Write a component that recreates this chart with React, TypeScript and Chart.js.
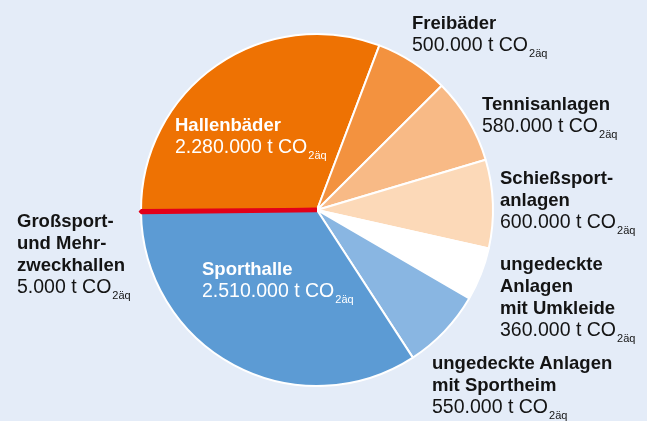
import React, { useEffect, useRef } from 'react';
import { Chart, registerables } from 'chart.js';

Chart.register(...registerables);

// ---- data ----
const categories: string[] = [
  'Hallenbäder',
  'Freibäder',
  'Tennisanlagen',
  'Schießsportanlagen',
  'ungedeckte Anlagen mit Umkleide',
  'ungedeckte Anlagen mit Sportheim',
  'Sporthalle',
  'Großsport- und Mehrzweckhallen',
];
const emissions: number[] = [2280000, 500000, 580000, 600000, 360000, 550000, 2510000, 5000];
const titleLines: string[][] = [
  ['Hallenbäder'],
  ['Freibäder'],
  ['Tennisanlagen'],
  ['Schießsport-', 'anlagen'],
  ['ungedeckte', 'Anlagen', 'mit Umkleide'],
  ['ungedeckte Anlagen', 'mit Sportheim'],
  ['Sporthalle'],
  ['Großsport-', 'und Mehr-', 'zweckhallen'],
];
const unitText = 't CO';
const unitSub = '2äq';

// ---- styles ----
const sliceColors = ['#ee7203', '#f3923f', '#f8ba86', '#fcd9b8', '#ffffff', '#89b6e2', '#5c9bd4', '#e2001a'];
const sliceBorderColors = ['#ffffff', '#ffffff', '#ffffff', '#ffffff', '#ffffff', '#ffffff', '#ffffff', '#e2001a'];
const sliceBorderWidths = [2, 2, 2, 2, 2, 2, 2, 4.5];
const labelPlacement = [
  { x: 175, baseline: 131.7, color: '#ffffff' },
  { x: 412, baseline: 30, color: '#141414' },
  { x: 482, baseline: 110.5, color: '#141414' },
  { x: 500, baseline: 185, color: '#141414' },
  { x: 500, baseline: 271, color: '#141414' },
  { x: 432, baseline: 370, color: '#141414' },
  { x: 202, baseline: 276, color: '#ffffff' },
  { x: 17, baseline: 228, color: '#141414' },
];
const BG = '#e4ecf8';
const FONT = '"Liberation Sans", Arial, sans-serif';
const TITLE_SIZE = 18.5;
const VALUE_SIZE = 19.5;
const LINE_STEP = 21.8;

function formatDE(n: number): string {
  const s = String(Math.round(n));
  let out = '';
  for (let i = 0; i < s.length; i++) {
    const fromEnd = s.length - i;
    out += s[i];
    if (fromEnd > 1 && (fromEnd - 1) % 3 === 0) out += '.';
  }
  return out;
}

function Line(props: { x: number; baseline: number; size: number; bold?: boolean; color: string; children: React.ReactNode }) {
  const { x, baseline, size, bold, color, children } = props;
  return (
    <div
      style={{
        position: 'absolute',
        left: x,
        top: baseline - 0.8465 * size,
        fontSize: size,
        lineHeight: 1,
        fontWeight: bold ? 700 : 400,
        color,
        whiteSpace: 'nowrap',
        fontFamily: FONT,
      }}
    >
      {children}
    </div>
  );
}

export default function App() {
  const canvasRef = useRef<HTMLCanvasElement | null>(null);

  useEffect(() => {
    if (!canvasRef.current) return;
    const chart = new Chart(canvasRef.current, {
      type: 'pie',
      data: {
        labels: categories,
        datasets: [
          {
            data: emissions,
            backgroundColor: sliceColors,
            borderColor: sliceBorderColors,
            borderWidth: sliceBorderWidths,
          },
        ],
      },
      options: {
        responsive: false,
        maintainAspectRatio: false,
        animation: false,
        events: [],
        rotation: 269.6,
        radius: 176,
        layout: { padding: { left: 0, right: 13, top: 0, bottom: 1 } },
        plugins: {
          legend: { display: false },
          tooltip: { enabled: false },
        },
      } as any,
    });
    return () => chart.destroy();
  }, []);

  return (
    <div
      style={{
        position: 'fixed',
        left: 0,
        top: 0,
        width: 647,
        height: 421,
        background: BG,
        overflow: 'hidden',
      }}
    >
      <canvas
        ref={canvasRef}
        width={647}
        height={421}
        style={{ position: 'absolute', left: 0, top: 0, width: 647, height: 421, display: 'block' }}
      />
      {categories.map((cat, i) => {
        const p = labelPlacement[i];
        const lines = titleLines[i];
        return (
          <React.Fragment key={cat}>
            {lines.map((t, j) => (
              <Line key={j} x={p.x} baseline={p.baseline + j * LINE_STEP} size={TITLE_SIZE} bold color={p.color}>
                {t}
              </Line>
            ))}
            <Line x={p.x} baseline={p.baseline + lines.length * LINE_STEP} size={VALUE_SIZE} color={p.color}>
              {formatDE(emissions[i])} {unitText}
              <span style={{ fontSize: 11, verticalAlign: '-6px', marginLeft: 1 }}>{unitSub}</span>
            </Line>
          </React.Fragment>
        );
      })}
    </div>
  );
}
